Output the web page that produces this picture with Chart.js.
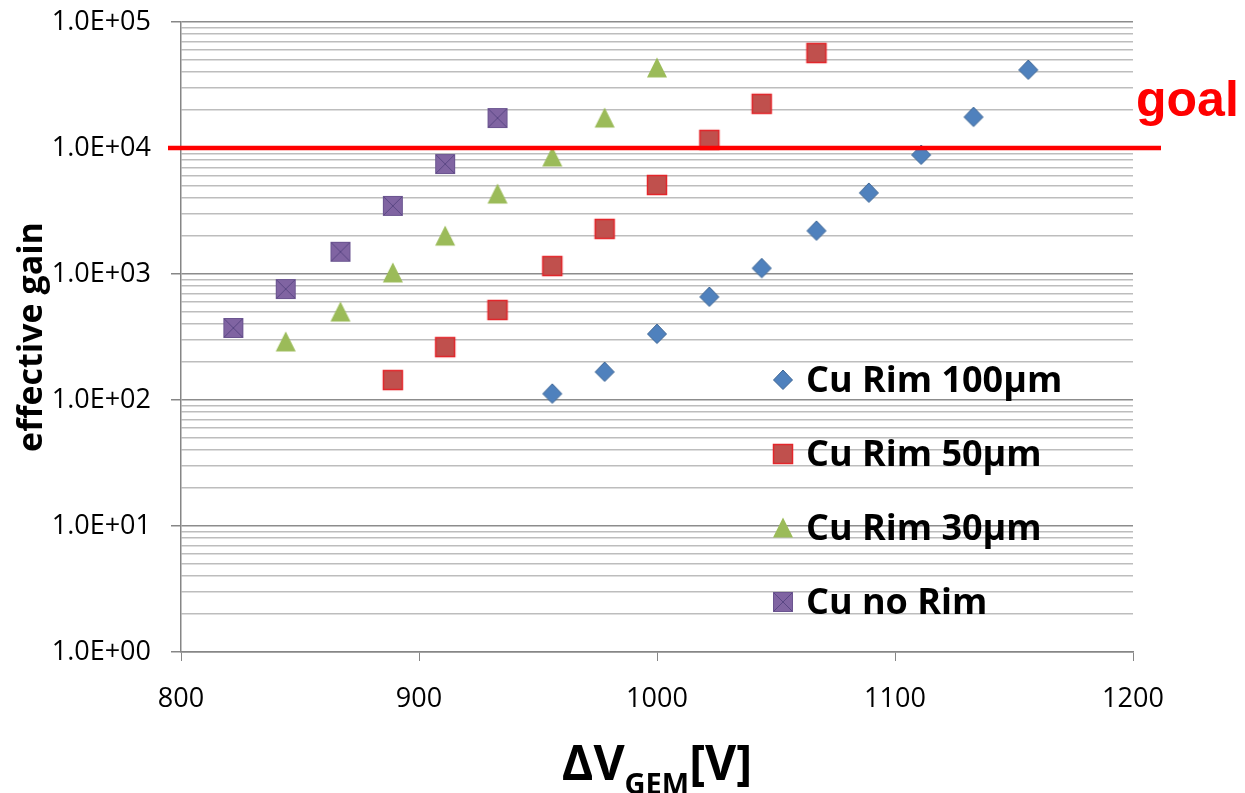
<!DOCTYPE html>
<html lang="en">
<head>
<meta charset="UTF-8">
<title>Effective gain vs ΔV GEM</title>
<script src="https://cdn.jsdelivr.net/npm/chart.js@4"></script>
<style>
  body { margin: 0; background: #fff; }
  #wrap { width: 1245px; height: 793px; }
</style>
</head>
<body>
<div id="wrap"><canvas id="gainChart" width="1245" height="793"></canvas></div>
<script>
// values
const seriesNames = ['Cu Rim 100µm', 'Cu Rim 50µm', 'Cu Rim 30µm', 'Cu no Rim'];

const rim100V    = [956, 978, 1000, 1022, 1044, 1067, 1089, 1111, 1133, 1156];
const rim100Gain = [112, 167, 334, 657, 1110, 2200, 4400, 8800, 17600, 41600];

const rim50V     = [889, 911, 933, 956, 978, 1000, 1022, 1044, 1067];
const rim50Gain  = [144, 263, 518, 1157, 2280, 5090, 11600, 22400, 56700];

const rim30V     = [844, 867, 889, 911, 933, 956, 978, 1000];
const rim30Gain  = [289, 499, 1020, 2000, 4310, 8490, 17300, 43200];

const noRimV     = [822, 844, 867, 889, 911, 933];
const noRimGain  = [373, 760, 1500, 3470, 7460, 17300];

const goalGain = 1e4;
const decadeTicks = [1, 10, 100, 1000, 10000, 100000];
const xTicks = [800, 900, 1000, 1100, 1200];

const pts = (xs, ys) => xs.map((x, i) => ({x: x, y: ys[i]}));

// excel-like markers drawn on small canvases
function marker(kind) {
    const c = document.createElement('canvas');
    c.width = 24; c.height = 24;
    const g = c.getContext('2d');
    if (kind === 'diamond') {
        g.beginPath();
        g.moveTo(12, 2); g.lineTo(21.5, 12); g.lineTo(12, 21.5); g.lineTo(2.5, 12); g.closePath();
        g.fillStyle = '#4f81bd'; g.fill();
        g.strokeStyle = '#3d6594'; g.lineWidth = 1; g.stroke();
    } else if (kind === 'square') {
        g.fillStyle = '#c0504d'; g.fillRect(2.5, 2.5, 19, 19);
        g.strokeStyle = '#e3262b'; g.lineWidth = 1.5; g.strokeRect(2.5, 2.5, 19, 19);
    } else if (kind === 'triangle') {
        g.beginPath();
        g.moveTo(12, 1.5); g.lineTo(22, 21.5); g.lineTo(2, 21.5); g.closePath();
        g.fillStyle = '#9bbb59'; g.fill();
    } else {
        g.fillStyle = '#8064a2'; g.fillRect(2.5, 2.5, 19, 19);
        g.strokeStyle = '#6b5590'; g.lineWidth = 1; g.strokeRect(2.5, 2.5, 19, 19);
        g.beginPath();
        g.moveTo(3, 3); g.lineTo(21, 21); g.moveTo(21, 3); g.lineTo(3, 21);
        g.strokeStyle = '#5a4784'; g.lineWidth = 1; g.stroke();
    }
    return c;
}
const markers = [marker('diamond'), marker('square'), marker('triangle'), marker('xsquare')];

const overlay = {
    id: 'overlay',
    afterDatasetsDraw(chart) {
        const {ctx, chartArea: a, scales: {y}} = chart;
        const gy = y.getPixelForValue(goalGain);
        ctx.save();
        ctx.strokeStyle = '#ff0000';
        ctx.lineWidth = 4.5;
        ctx.beginPath();
        ctx.moveTo(a.left - 13, gy);
        ctx.lineTo(a.right + 28, gy);
        ctx.stroke();
        ctx.fillStyle = '#ff0000';
        ctx.font = 'bold 50px "Liberation Sans", Arial, sans-serif';
        ctx.textBaseline = 'alphabetic';
        ctx.fillText('goal', a.right + 3, gy - 32);

        // legend inside the plot
        ctx.fillStyle = '#000';
        ctx.font = 'bold 36px "Open Sans", sans-serif';
        seriesNames.forEach((name, i) => {
            const my = 380 + i * 74;
            ctx.drawImage(markers[i], 783 - 12, my - 12);
            ctx.fillText(name, 806, my + 12);
        });

        // x title with subscript
        const big = 'bold 48px "Open Sans", sans-serif';
        const small = 'bold 29px "Open Sans", sans-serif';
        ctx.font = big;
        const w1 = ctx.measureText('ΔV').width;
        const w3 = ctx.measureText('[V]').width;
        ctx.font = small;
        const w2 = ctx.measureText('GEM').width;
        let x0 = (a.left + a.right) / 2 - (w1 + w2 + w3) / 2;
        ctx.font = big;
        ctx.fillText('ΔV', x0, 780);
        ctx.font = small;
        ctx.fillText('GEM', x0 + w1, 794);
        ctx.font = big;
        ctx.fillText('[V]', x0 + w1 + w2, 780);
        ctx.restore();
    }
};

const ds = (label, data, idx, order) => ({
    label: label,
    data: data,
    pointStyle: markers[idx],
    pointRadius: 10,
    showLine: false,
    order: order
});

new Chart(document.getElementById('gainChart'), {
    type: 'scatter',
    data: {
        datasets: [
            ds(seriesNames[0], pts(rim100V, rim100Gain), 0, 4),
            ds(seriesNames[1], pts(rim50V, rim50Gain), 1, 3),
            ds(seriesNames[2], pts(rim30V, rim30Gain), 2, 2),
            ds(seriesNames[3], pts(noRimV, noRimGain), 3, 1)
        ]
    },
    options: {
        responsive: false,
        animation: false,
        layout: { padding: { top: 22, right: 112, left: 0, bottom: 0 } },
        plugins: { legend: { display: false }, tooltip: { enabled: false } },
        scales: {
            x: {
                type: 'linear',
                min: 800, max: 1200,
                afterBuildTicks: (s) => { s.ticks = xTicks.map(v => ({value: v})); },
                afterFit: (s) => { s.height = 141; s.paddingLeft = 0; s.paddingRight = 0; },
                grid: { drawOnChartArea: false, drawTicks: true, tickLength: 9, color: '#868686', lineWidth: 1 },
                border: { color: '#868686', width: 1.5 },
                ticks: {
                    padding: 22,
                    color: '#000',
                    font: { family: '"Open Sans", sans-serif', size: 27 },
                    callback: (v) => String(v)
                }
            },
            y: {
                type: 'logarithmic',
                min: 1, max: 100000,
                afterBuildTicks: (s) => {
                    const t = [];
                    decadeTicks.forEach((d, i) => {
                        if (i === decadeTicks.length - 1) { t.push({value: d, major: true}); return; }
                        for (let k = 1; k < 10; k++) t.push({value: d * k, major: k === 1});
                    });
                    s.ticks = t;
                },
                afterFit: (s) => { s.width = 181; s.paddingTop = 0; s.paddingBottom = 0; },
                grid: {
                    color: (c) => decadeTicks.includes(c.tick && c.tick.value) ? '#8c8c8c' : '#bdbdbd',
                    tickColor: (c) => decadeTicks.includes(c.tick && c.tick.value) ? '#868686' : 'rgba(0,0,0,0)',
                    lineWidth: 1.5,
                    tickLength: 10
                },
                border: { color: '#868686', width: 1.5 },
                title: {
                    display: true,
                    text: 'effective gain',
                    color: '#000',
                    font: { family: '"Open Sans", sans-serif', size: 34, weight: 'bold' },
                    padding: { top: 12, bottom: 0 }
                },
                ticks: {
                    autoSkip: false,
                    padding: 20,
                    color: '#000',
                    font: { family: '"Open Sans", sans-serif', size: 27 },
                    callback: (v) => decadeTicks.includes(v)
                        ? '1.0E+' + String(Math.round(Math.log10(v))).padStart(2, '0')
                        : ''
                }
            }
        }
    },
    plugins: [overlay]
});
</script>
</body>
</html>
